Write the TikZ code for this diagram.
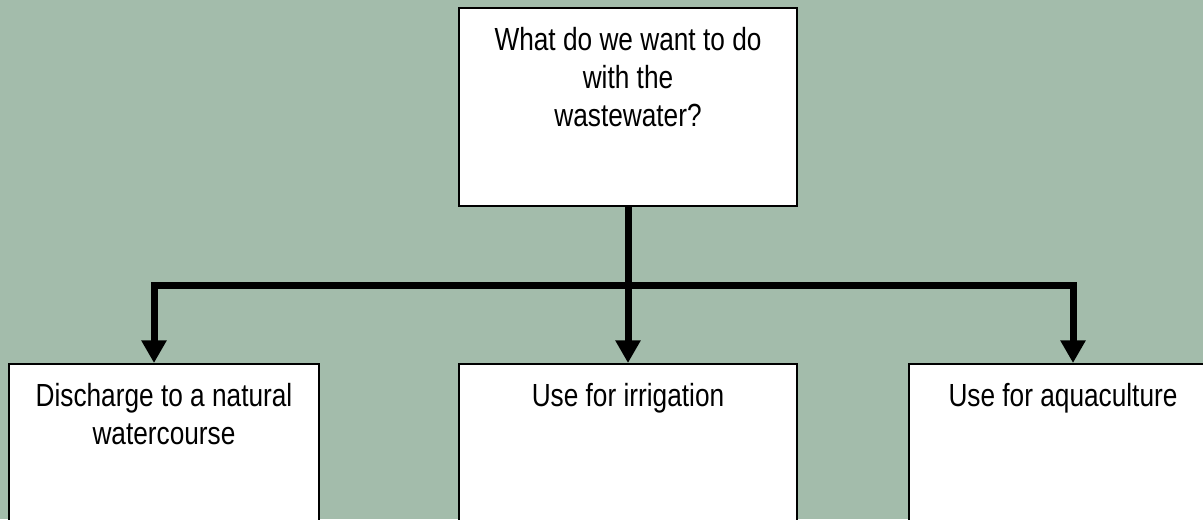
\documentclass[tikz,border=0pt]{standalone}
\usepackage{fontspec}
\setmainfont[FakeStretch=0.82]{Liberation Sans}
\usetikzlibrary{arrows.meta}
\definecolor{bgsage}{RGB}{163,188,171}
\newcommand{\boxlines}[2]{\parbox[c][148.5pt][t]{#1}{\centering\rule{0pt}{32pt}#2}}
\tikzset{
  box/.style={draw, fill=white, line width=1.2pt, inner sep=0pt, anchor=north,
    font=\fontsize{24}{28.5}\selectfont},
  conn/.style={line width=5.25pt, line join=miter, -{Triangle[width=18pt,length=17pt]}}
}
\begin{document}
\begin{tikzpicture}[x=0.75pt,y=0.75pt,yscale=-1,xscale=1]
	\useasboundingbox (0,0) rectangle (1203,519);
	\clip (0,0) rectangle (1203,519);
	\fill[bgsage] (0,0) rectangle (1203,519);
	
	% Box
	\node[box] (top) at (628,7) {\boxlines{253.5pt}{What do we want to do\\with the\\wastewater?}};
	% Box
	\node[box] (discharge) at (164,363) {\boxlines{232.5pt}{Discharge to a natural\\watercourse}};
	% Box
	\node[box] (irrigation) at (628,363) {\boxlines{253.5pt}{Use for irrigation}};
	% Box
	\node[box] (aquaculture) at (1063,363) {\boxlines{231pt}{Use for aquaculture}};
	
	\path (top.south) ++(0,79) coordinate (junction);
	% Connection
	\draw[conn] (top.south) -- (irrigation.north);
	% Connection
	\draw[conn] (junction) -| ([xshift=-7.5pt]discharge.north);
	% Connection
	\draw[conn] (junction) -| ([xshift=7.5pt]aquaculture.north);
	
\end{tikzpicture}
\end{document}
